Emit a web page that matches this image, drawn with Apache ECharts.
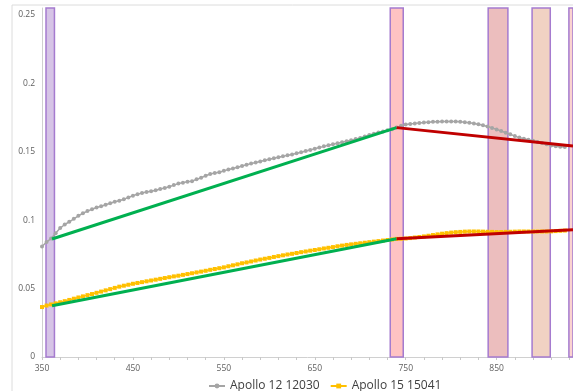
<!DOCTYPE html>
<html>
<head>
<meta charset="utf-8">
<script src="https://cdn.jsdelivr.net/npm/echarts@6/dist/echarts.min.js"></script>
<style>
  html, body, #main { width: 100%; height: 100%; margin: 0; background: #fff; }
</style>
</head>
<body>
<div id="main"></div>
<script>
// wavelength grid (nm), 5 nm steps
var wavelengths = [];
for (var w = 350; w <= 925; w += 5) wavelengths.push(w);

// Apollo 12 12030 reflectance
var apollo12 = [
  0.0807, 0.0840, 0.0866, 0.0905, 0.0942, 0.0968, 0.0988, 0.1010, 0.1032, 0.1050,
  0.1066, 0.1080, 0.1092, 0.1102, 0.1113, 0.1124, 0.1134, 0.1142, 0.1152, 0.1166,
  0.1178, 0.1190, 0.1199, 0.1205, 0.1211, 0.1219, 0.1227, 0.1235, 0.1244, 0.1256,
  0.1267, 0.1274, 0.1280, 0.1285, 0.1298, 0.1310, 0.1324, 0.1337, 0.1344, 0.1350,
  0.1360, 0.1370, 0.1378, 0.1387, 0.1396, 0.1405, 0.1413, 0.1421, 0.1429, 0.1437,
  0.1445, 0.1452, 0.1460, 0.1466, 0.1474, 0.1480, 0.1488, 0.1496, 0.1505, 0.1513,
  0.1522, 0.1530, 0.1539, 0.1547, 0.1555, 0.1562, 0.1569, 0.1577, 0.1583, 0.1592,
  0.1601, 0.1611, 0.1622, 0.1631, 0.1640, 0.1648, 0.1656, 0.1664, 0.1676, 0.1690,
  0.1698, 0.1703, 0.1707, 0.1710, 0.1713, 0.1716, 0.1718, 0.1719, 0.1720, 0.1721,
  0.1721, 0.1720, 0.1718, 0.1715, 0.1711, 0.1706, 0.1700, 0.1693, 0.1684, 0.1674,
  0.1663, 0.1651, 0.1639, 0.1627, 0.1614, 0.1603, 0.1595, 0.1588, 0.1580, 0.1571,
  0.1563, 0.1554, 0.1546, 0.1539, 0.1536, 0.1535
];

// Apollo 15 15041 reflectance
var apollo15 = [
  0.0365, 0.0376, 0.0384, 0.0392, 0.0400, 0.0408, 0.0417, 0.0426, 0.0435, 0.0443,
  0.0452, 0.0460, 0.0469, 0.0478, 0.0487, 0.0496, 0.0505, 0.0514, 0.0521, 0.0528,
  0.0535, 0.0541, 0.0547, 0.0553, 0.0559, 0.0565, 0.0571, 0.0577, 0.0583, 0.0589,
  0.0594, 0.0600, 0.0606, 0.0612, 0.0618, 0.0624, 0.0630, 0.0637, 0.0643, 0.0649,
  0.0655, 0.0663, 0.0670, 0.0677, 0.0685, 0.0691, 0.0698, 0.0705, 0.0712, 0.0718,
  0.0724, 0.0731, 0.0737, 0.0743, 0.0749, 0.0754, 0.0760, 0.0766, 0.0771, 0.0777,
  0.0782, 0.0787, 0.0793, 0.0798, 0.0803, 0.0809, 0.0814, 0.0819, 0.0823, 0.0827,
  0.0831, 0.0835, 0.0839, 0.0843, 0.0847, 0.0851, 0.0855, 0.0859, 0.0863, 0.0864,
  0.0866, 0.0869, 0.0873, 0.0877, 0.0881, 0.0886, 0.0891, 0.0896, 0.0901, 0.0905,
  0.0909, 0.0912, 0.0914, 0.0916, 0.0917, 0.0917, 0.0917, 0.0916, 0.0915, 0.0914,
  0.0913, 0.0913, 0.0914, 0.0915, 0.0916, 0.0917, 0.0917, 0.0917, 0.0917, 0.0917,
  0.0917, 0.0917, 0.0918, 0.0920, 0.0922, 0.0924
];

// continuum segments [nm, value]
var green12 = [[361, 0.0862], [740, 0.1676]];
var red12 = [[740, 0.1676], [934, 0.1542]];
var green15 = [[361, 0.0375], [740, 0.0864]];
var red15 = [[740, 0.0864], [934, 0.0929]];

// absorption band windows (nm)
var bands = [[354.4, 363.7], [733, 747.3], [840.7, 862.4], [889, 909], [929.5, 934]];
var bandColors = ['#d6c4e6', '#ffc3c3', '#ecbebe', '#f1d2c3', '#fbd3cf'];

function pairs(xs, ys) {
  return xs.map(function (x, i) { return [x, ys[i]]; });
}

var chart = echarts.init(document.getElementById('main'));

var option = {
  animation: false,
  backgroundColor: '#fff',
  textStyle: { fontFamily: 'Open Sans, DejaVu Sans, sans-serif' },
  grid: { left: 42, right: 0, top: 8, bottom: 34 },
  graphic: [
    { type: 'line', shape: { x1: 12, y1: 5, x2: 573, y2: 5 }, style: { stroke: '#dcdcdc', lineWidth: 1 }, silent: true },
    { type: 'line', shape: { x1: 12, y1: 5, x2: 12, y2: 391 }, style: { stroke: '#dcdcdc', lineWidth: 1 }, silent: true }
  ],
  legend: {
    left: 203,
    top: 375,
    itemWidth: 16,
    itemHeight: 6,
    itemGap: 10,
    textStyle: { fontSize: 12, color: '#404040' },
    data: ['Apollo 12 12030', 'Apollo 15 15041']
  },
  xAxis: {
    type: 'value',
    min: 350,
    max: 934,
    interval: 100,
    axisLine: { lineStyle: { color: '#d0d0d0' } },
    axisTick: { show: true, length: 3, lineStyle: { color: '#c8c8c8' } },
    minorTick: { show: true, splitNumber: 5, length: 3, lineStyle: { color: '#c8c8c8' } },
    splitLine: { show: false },
    axisLabel: { fontSize: 8.5, color: '#606060', margin: 7, showMaxLabel: false }
  },
  yAxis: {
    type: 'value',
    min: 0,
    max: 0.255,
    interval: 0.05,
    axisLine: { show: true, lineStyle: { color: '#d0d0d0' } },
    axisTick: { show: false },
    splitLine: { show: false },
    axisLabel: { fontSize: 8.5, color: '#606060', margin: 7, showMaxLabel: false }
  },
  series: [
    {
      type: 'line',
      name: 'bands',
      data: [],
      z: 1,
      silent: true,
      markArea: {
        silent: true,
        data: bands.map(function (b, i) {
          return [
            { xAxis: b[0], itemStyle: { color: bandColors[i], borderColor: '#a57bcf', borderWidth: 1.5 } },
            { xAxis: b[1] }
          ];
        })
      }
    },
    {
      type: 'line',
      name: 'Apollo 12 12030',
      data: pairs(wavelengths, apollo12),
      z: 3,
      symbol: 'circle',
      symbolSize: 4,
      showAllSymbol: true,
      itemStyle: { color: '#a5a5a5' },
      lineStyle: { color: '#a5a5a5', width: 1.5 }
    },
    {
      type: 'line',
      name: 'Apollo 15 15041',
      data: pairs(wavelengths, apollo15),
      z: 3,
      symbol: 'rect',
      symbolSize: 4,
      showAllSymbol: true,
      itemStyle: { color: '#ffc000' },
      lineStyle: { color: '#ffc000', width: 1.5 }
    },
    { type: 'line', data: green12, z: 5, symbol: 'none', lineStyle: { color: '#00b050', width: 3 } },
    { type: 'line', data: red12, z: 5, symbol: 'none', lineStyle: { color: '#c00000', width: 3 } },
    { type: 'line', data: green15, z: 5, symbol: 'none', lineStyle: { color: '#00b050', width: 3 } },
    { type: 'line', data: red15, z: 5, symbol: 'none', lineStyle: { color: '#c00000', width: 3 } }
  ]
};

chart.setOption(option);
</script>
</body>
</html>
